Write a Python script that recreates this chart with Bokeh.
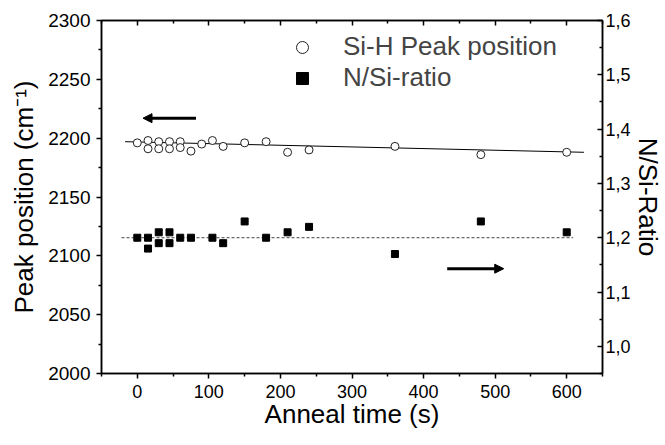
from bokeh.plotting import figure
from bokeh.models import (Range1d, LinearAxis, FixedTicker, Arrow, NormalHead,
                          Legend, LegendItem, CustomJSTickFormatter)
from bokeh.embed import file_html
from bokeh.resources import INLINE

# ---- data ----
sih_time = [0, 15, 15, 30, 30, 45, 45, 60, 60, 75, 90, 105, 120, 150, 180, 210, 240, 360, 480, 600]
sih_peak = [2196, 2198, 2191, 2197, 2191, 2197, 2191, 2197, 2192, 2189, 2195, 2198, 2193,
            2196, 2197, 2188, 2190, 2193, 2186, 2188]

nsi_time = [0, 15, 15, 30, 30, 45, 45, 60, 75, 105, 120, 150, 180, 210, 240, 360, 480, 600]
nsi_ratio = [1.20, 1.20, 1.18, 1.21, 1.19, 1.21, 1.19, 1.20, 1.20, 1.20, 1.19, 1.23, 1.20,
             1.21, 1.22, 1.17, 1.23, 1.21]

fit_time = [-17, 624]
fit_peak = [2197, 2188]

mean_time = [-22, 609]
mean_ratio = [1.20, 1.20]

x_ticks = [0, 100, 200, 300, 400, 500, 600]
x_minor = [-50, 50, 150, 250, 350, 450, 550, 650]
left_ticks = [2000, 2050, 2100, 2150, 2200, 2250, 2300]
left_minor = [2025, 2075, 2125, 2175, 2225, 2275]
right_ticks = [1.0, 1.1, 1.2, 1.3, 1.4, 1.5, 1.6]
right_minor = [0.95, 1.05, 1.15, 1.25, 1.35, 1.45, 1.55]

FONT = "Liberation Sans"

p = figure(width=665, height=445, output_backend="svg", toolbar_location=None,
           x_range=Range1d(-50, 650), y_range=Range1d(2000, 2300),
           x_axis_type=None, y_axis_type=None,
           min_border_left=101, min_border_right=61, min_border_top=20, min_border_bottom=72)
p.extra_y_ranges = {"right": Range1d(0.95, 1.6)}
p.grid.visible = False
p.outline_line_color = "black"
p.outline_line_width = 1.5
p.background_fill_color = "white"
p.border_fill_color = "white"

def style(ax, out=True):
    ax.axis_line_width = 1.5
    ax.major_tick_line_width = 1.5
    ax.minor_tick_line_width = 1.5
    if out:
        ax.major_tick_out, ax.major_tick_in = 5, 0
        ax.minor_tick_out, ax.minor_tick_in = 3, 0
    else:
        ax.major_tick_out, ax.major_tick_in = 0, 5
        ax.minor_tick_out, ax.minor_tick_in = 0, 3
    ax.major_label_text_font = FONT
    ax.axis_label_text_font = FONT
    ax.axis_label_text_font_style = "normal"
    ax.axis_label_text_font_size = "26px"
    ax.major_label_text_color = "black"
    ax.axis_label_text_color = "black"

bottom = LinearAxis(ticker=FixedTicker(ticks=x_ticks, minor_ticks=x_minor),
                    axis_label="Anneal time (s)")
style(bottom)
bottom.major_label_text_font_size = "18px"
bottom.major_label_standoff = 6
bottom.axis_label_standoff = -2
p.add_layout(bottom, "below")

top = LinearAxis(ticker=FixedTicker(ticks=x_ticks, minor_ticks=x_minor),
                 formatter=CustomJSTickFormatter(code="return '';"))
style(top, out=False)
top.major_label_text_font_size = "0px"
top.major_label_standoff = 0
p.add_layout(top, "above")

left = LinearAxis(ticker=FixedTicker(ticks=left_ticks, minor_ticks=left_minor),
                  axis_label="Peak position (cm⁻¹)")
style(left)
left.major_label_text_font_size = "19px"
left.major_label_standoff = 6
left.axis_label_standoff = 6
p.add_layout(left, "left")

right = LinearAxis(y_range_name="right",
                   ticker=FixedTicker(ticks=right_ticks, minor_ticks=right_minor),
                   axis_label="N/Si-Ratio",
                   formatter=CustomJSTickFormatter(code="return tick.toFixed(1).replace('.', ',');"))
style(right, out=False)
right.major_label_text_font_size = "18px"
right.major_label_standoff = 3
right.axis_label_standoff = -1
p.add_layout(right, "right")

r_fit = p.line(fit_time, fit_peak, line_color="black", line_width=1)
r_mean = p.line(mean_time, mean_ratio, y_range_name="right", line_color="#444444",
                line_dash="3 2", line_width=1)
r_sih = p.scatter(sih_time, sih_peak, marker="circle", size=8, fill_color="white",
                  line_color="#222222", line_width=1)
r_nsi = p.scatter(nsi_time, nsi_ratio, marker="square", size=7, fill_color="black",
                  line_color="black", y_range_name="right")

p.add_layout(Arrow(end=NormalHead(size=9, fill_color="black", line_color="black"),
                   x_start=82, y_start=2217, x_end=8, y_end=2217,
                   line_width=3, line_color="black"))
p.add_layout(Arrow(end=NormalHead(size=9, fill_color="black", line_color="black"),
                   x_start=433, y_start=1.143, x_end=512, y_end=1.143,
                   line_width=3, line_color="black", y_range_name="right"))

legend = Legend(items=[LegendItem(label="Si-H Peak position", renderers=[r_sih]),
                       LegendItem(label="N/Si-ratio", renderers=[r_nsi])],
                location=(171, 280), border_line_alpha=0, background_fill_alpha=0,
                glyph_width=60, glyph_height=30, label_height=30, label_standoff=11,
                padding=0, margin=0, spacing=0,
                label_text_font=FONT, label_text_font_size="26px")
p.add_layout(legend)

open("out.html", "w").write(file_html(p, INLINE))
